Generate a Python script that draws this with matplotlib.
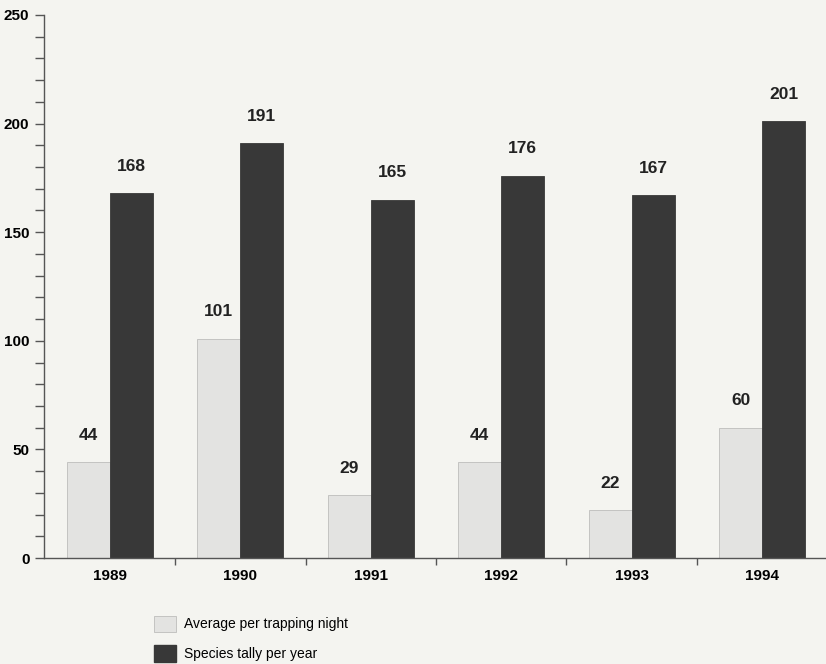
import matplotlib.pyplot as plt
import numpy as np
from matplotlib.patches import Patch

# data
years = ['1989', '1990', '1991', '1992', '1993', '1994']
avg_per_night = [44, 101, 29, 44, 22, 60]
species_tally = [168, 191, 165, 176, 167, 201]

plt.rcParams['font.family'] = ['Liberation Sans', 'DejaVu Sans']

bg = '#f4f4f0'
light = '#e3e3e1'
dark = '#383838'
axcol = '#555555'

fig = plt.figure(figsize=(8.26, 6.64), dpi=100, facecolor=bg)
ax = fig.add_axes([44 / 826, 1 - 558 / 664, 1 - 44 / 826, (558 - 15) / 664])
ax.set_facecolor(bg)

x = np.arange(len(years))
w = 0.33
b1 = ax.bar(x - w / 2, avg_per_night, w, color=light, edgecolor='#bdbdbb', linewidth=0.6)
b2 = ax.bar(x + w / 2, species_tally, w, color=dark, edgecolor=dark, linewidth=0.6)

# value labels above the bars
for bars, vals in ((b1, avg_per_night), (b2, species_tally)):
    for r, v in zip(bars, vals):
        ax.annotate(str(v), xy=(r.get_x() + r.get_width() / 2, v),
                    xytext=(0, 14), textcoords='offset points',
                    ha='center', va='bottom', fontsize=12.5, fontweight='bold',
                    color='#222222')

ax.set_xlim(-0.506, 5.49)
ax.set_ylim(0, 250)

for s in ('top', 'right'):
    ax.spines[s].set_visible(False)
for s in ('left', 'bottom'):
    ax.spines[s].set_color(axcol)
    ax.spines[s].set_linewidth(1.0)

ax.set_yticks(np.arange(0, 251, 50))
ax.set_yticks(np.arange(0, 251, 10), minor=True)
ax.tick_params(axis='y', which='both', direction='out', length=6.5, width=1,
               color=axcol, labelsize=11, pad=4)
for lab in ax.get_yticklabels():
    lab.set_fontweight('bold')

ax.set_xticks(x)
ax.set_xticklabels(years, fontsize=11, fontweight='bold')
ax.set_xticks(np.arange(0.5, 5.0, 1), minor=True)
ax.tick_params(axis='x', which='major', length=0, pad=8)
ax.tick_params(axis='x', which='minor', direction='out', length=5, width=1, color=axcol)

handles = [Patch(facecolor=light, edgecolor='#bdbdbb', linewidth=0.6),
           Patch(facecolor=dark, edgecolor=dark)]
fig.legend(handles, ['Average per trapping night', 'Species tally per year'],
           loc='upper left', bbox_to_anchor=(148 / 826, 1 - 610 / 664),
           frameon=False, fontsize=10, handlelength=1.6, handleheight=1.4,
           handletextpad=0.6, labelspacing=1.0, borderaxespad=0)

fig.savefig('out.png', dpi=100, facecolor=bg)
